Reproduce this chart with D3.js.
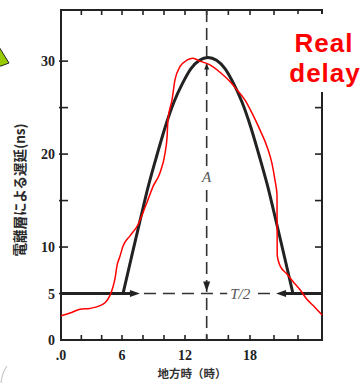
<!DOCTYPE html>
<html>
<head>
<meta charset="utf-8">
<script src="https://cdn.jsdelivr.net/npm/d3@7/dist/d3.min.js"></script>
<style>
  body { margin: 0; background: #fff; }
  svg { display: block; }
</style>
</head>
<body>
<script>
// measured ionospheric delay (red, "Real delay")
var realHour  = [0, 0.89, 1.87, 2.85, 3.84, 4.33, 4.82, 5.11, 5.31, 5.51, 5.8, 6.1, 6.76, 7.52, 8.0, 8.38, 8.95, 9.62, 10.1, 10.29, 10.38, 10.76, 11.05, 11.52, 12.18, 12.74, 13.38, 14.31, 15.23, 16.15, 16.8, 17.54, 18.17, 18.83, 19.42, 19.83, 20.08, 20.25, 20.26, 20.27, 20.5, 21.08, 21.58, 22.17, 22.67, 23.42, 24.0];
var realDelay = [2.6, 2.9, 3.3, 3.4, 3.7, 4.0, 4.8, 5.7, 6.6, 8.0, 9.0, 10.1, 11.2, 12.4, 13.7, 14.8, 16.5, 18.0, 20.1, 21.8, 23.7, 25.8, 28.0, 29.4, 30.1, 30.3, 30.0, 29.6, 28.8, 27.8, 26.9, 25.8, 24.4, 22.6, 20.8, 19.0, 17.2, 15.6, 11.8, 9.1, 8.0, 7.1, 6.3, 5.4, 4.5, 3.5, 2.7];

// cosine model (black): night level, then the daytime hump
var nightHour  = [0, 6.1, 21.58, 24];
var modelHour  = [6.1, 6.9, 7.71, 8.52, 9.33, 10.14, 10.95, 11.76, 12.55, 13.34, 14.12, 14.91, 15.69, 16.48, 17.26, 18.04, 18.75, 19.46, 20.17, 20.88, 21.58];
var modelDelay = [5.0, 8.9, 12.8, 16.6, 19.9, 23.0, 25.6, 27.6, 29.2, 30.1, 30.4, 30.1, 29.2, 27.6, 25.6, 23.0, 19.9, 16.6, 12.8, 8.9, 5.0];

// axes
var xTickVals = [2, 4, 6, 8, 10, 12, 14, 16, 18, 20, 22];
var xLabelVals = [0, 6, 12, 18];
var xLabelText = [".0", "6", "12", "18"];
var yTickVals = [5, 10, 15, 20, 25, 30];
var yLabelVals = [0, 5, 10, 20, 30];

// annotation values
var peakHour = 14, nightDelay = 5, peakDelay = 30.4;
var arrowLeftTip = 7.71, arrowRightTip = 20.17, halfLabelHour = 17.1, ampLabelDelay = 17.5;

var width = 364, height = 383;

var svg = d3.select("body").append("svg")
  .attr("width", width)
  .attr("height", height);

// scanned figure: hour spacing is not quite even
var x = d3.scaleLinear()
  .domain([0, 6, 12, 18, 24])
  .range([61, 122, 185, 250, 322]);

var y = d3.scaleLinear()
  .domain([0, 35.5])
  .range([340, 10]);

var ink = "#222";

// slide border and green marker
svg.append("path")
  .attr("d", "M7,366 Q2,373 1,383")
  .attr("fill", "none")
  .attr("stroke", "#c8c8c8")
  .attr("stroke-width", 1.2);

svg.append("polygon")
  .attr("points", "-4,42 9,63 1,66 -4,66")
  .attr("fill", "#99cc00")
  .attr("stroke", "#222")
  .attr("stroke-width", 1);

// frame
var x0 = x(0), x1 = x(24), yb = y(0), yt = y(35.5);
svg.append("rect")
  .attr("x", x0).attr("y", yt)
  .attr("width", x1 - x0).attr("height", yb - yt)
  .attr("fill", "none")
  .attr("stroke", ink)
  .attr("stroke-width", 2);

// ticks
xTickVals.forEach(function(h){
  svg.append("line")
    .attr("x1", x(h)).attr("x2", x(h))
    .attr("y1", yb).attr("y2", yb - 5)
    .attr("stroke", ink).attr("stroke-width", 1.6);
  svg.append("line")
    .attr("x1", x(h)).attr("x2", x(h))
    .attr("y1", yt).attr("y2", yt + 5)
    .attr("stroke", ink).attr("stroke-width", 1.6);
});

yTickVals.forEach(function(v){
  svg.append("line")
    .attr("x1", x0 - 2).attr("x2", x0 + 7)
    .attr("y1", y(v)).attr("y2", y(v))
    .attr("stroke", ink).attr("stroke-width", 1.6);
  svg.append("line")
    .attr("x1", x1).attr("x2", x1 - 7)
    .attr("y1", y(v)).attr("y2", y(v))
    .attr("stroke", ink).attr("stroke-width", 1.6);
});

// tick labels
svg.selectAll(".ylab")
  .data(yLabelVals)
  .enter()
  .append("text")
  .attr("class", "ylab")
  .attr("x", x0 - 6)
  .attr("y", function(d){ return y(d) + 5; })
  .attr("text-anchor", "end")
  .style("font", "bold 14px 'Liberation Serif', serif")
  .style("fill", ink)
  .text(function(d){ return d; });

svg.selectAll(".xlab")
  .data(xLabelVals)
  .enter()
  .append("text")
  .attr("class", "xlab")
  .attr("x", function(d){ return x(d); })
  .attr("y", yb + 20)
  .attr("text-anchor", "middle")
  .style("font", "bold 14px 'Liberation Serif', serif")
  .style("fill", ink)
  .text(function(d, i){ return xLabelText[i]; });

// axis titles
svg.append("text")
  .attr("transform", "translate(25,190) rotate(-90)")
  .attr("text-anchor", "middle")
  .style("font", "bold 13.5px 'Noto Sans CJK JP', sans-serif")
  .style("fill", "#2a2a2a")
  .text("電離層による遅延(ns)");

svg.append("text")
  .attr("x", 192)
  .attr("y", 378)
  .attr("text-anchor", "middle")
  .style("font", "bold 11.5px 'Noto Sans CJK JP', sans-serif")
  .style("fill", "#333")
  .text("地方時（時）");

// dashed guides
svg.append("line")
  .attr("x1", x(peakHour)).attr("x2", x(peakHour))
  .attr("y1", yt).attr("y2", yb)
  .attr("stroke", "#333").attr("stroke-width", 1.6)
  .attr("stroke-dasharray", "12,6");

svg.append("line")
  .attr("x1", x(arrowLeftTip) + 4).attr("x2", x(arrowRightTip) - 4)
  .attr("y1", y(nightDelay)).attr("y2", y(nightDelay))
  .attr("stroke", "#333").attr("stroke-width", 1.6)
  .attr("stroke-dasharray", "12,7");

// arrows of the half period
function arrowHead(tx, ty, dx, dy, len, half){
  var bx = tx - dx * len, by = ty - dy * len;
  svg.append("polygon")
    .attr("points", [tx, ty, bx - dy * half, by + dx * half, bx + dy * half, by - dx * half].join(","))
    .attr("fill", ink);
}

svg.append("line")
  .attr("x1", x(6)).attr("x2", x(arrowLeftTip) - 8)
  .attr("y1", y(nightDelay)).attr("y2", y(nightDelay))
  .attr("stroke", ink).attr("stroke-width", 3);
arrowHead(x(arrowLeftTip), y(nightDelay), 1, 0, 10, 3.5);

svg.append("line")
  .attr("x1", x(arrowRightTip) + 8).attr("x2", x1)
  .attr("y1", y(nightDelay)).attr("y2", y(nightDelay))
  .attr("stroke", ink).attr("stroke-width", 3);
arrowHead(x(arrowRightTip), y(nightDelay), -1, 0, 10, 3.5);

// amplitude arrow
arrowHead(x(peakHour), y(nightDelay) - 2, 0, 1, 10, 3.5);
arrowHead(x(peakHour), y(peakDelay) + 6, 0, -1, 6, 2.5);

// labels A and T/2
svg.append("rect")
  .attr("x", x(halfLabelHour) - 13).attr("y", y(nightDelay) - 8)
  .attr("width", 26).attr("height", 16)
  .attr("fill", "#fff");
svg.append("text")
  .attr("x", x(halfLabelHour))
  .attr("y", y(nightDelay) + 5)
  .attr("text-anchor", "middle")
  .style("font", "italic 15px 'Liberation Serif', serif")
  .style("fill", "#555")
  .text("T/2");

svg.append("rect")
  .attr("x", x(peakHour) - 7).attr("y", y(ampLabelDelay) - 9)
  .attr("width", 14).attr("height", 18)
  .attr("fill", "#fff");
svg.append("text")
  .attr("x", x(peakHour))
  .attr("y", y(ampLabelDelay) + 5)
  .attr("text-anchor", "middle")
  .style("font", "italic 15px 'Liberation Serif', serif")
  .style("fill", "#555")
  .text("A");

// model curve: straight night level, smooth hump
var flat = d3.line()
  .x(function(d){ return x(d); })
  .y(function(){ return y(nightDelay); });

svg.append("path")
  .attr("d", flat(nightHour.slice(0, 2)) + flat(nightHour.slice(2)))
  .attr("fill", "none")
  .attr("stroke", ink)
  .attr("stroke-width", 3);

var line = d3.line()
  .x(function(d){ return x(d[0]); })
  .y(function(d){ return y(d[1]); })
  .curve(d3.curveMonotoneX);

svg.append("path")
  .datum(d3.zip(modelHour, modelDelay))
  .attr("d", line)
  .attr("fill", "none")
  .attr("stroke", ink)
  .attr("stroke-width", 3)
  .attr("stroke-linejoin", "round");

// real delay curve
svg.append("path")
  .datum(d3.zip(realHour, realDelay))
  .attr("d", line)
  .attr("fill", "none")
  .attr("stroke", "#ff0000")
  .attr("stroke-width", 1.5);

// legend text on a white patch that hides the top of the right axis
svg.append("rect")
  .attr("x", 280).attr("y", yt + 4)
  .attr("width", 84).attr("height", 78)
  .attr("fill", "#fff");

var legend = svg.append("text")
  .attr("text-anchor", "middle")
  .style("font", "bold 26px 'Liberation Sans', Arial, sans-serif")
  .style("letter-spacing", "1px")
  .style("fill", "#ff0000");
legend.append("tspan").attr("x", 324).attr("y", 52).text("Real");
legend.append("tspan").attr("x", 325).attr("y", 82).text("delay");
</script>
</body>
</html>
